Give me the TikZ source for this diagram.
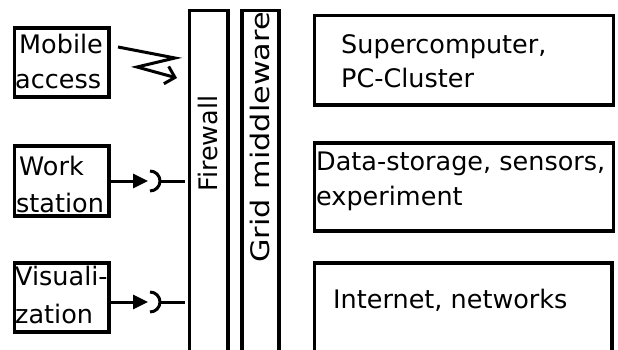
\documentclass[tikz,border=0pt]{standalone}
\usepackage{fontspec}
\setmainfont{DejaVu Sans}
\usetikzlibrary{arrows.meta,calc}

\begin{document}
\begin{tikzpicture}[x=1pt,y=-1pt,
  frame/.style={draw, line width=3.2pt, outer sep=0pt, inner sep=0pt, anchor=north west},
  txt/.style={anchor=base west, inner sep=0pt, font=\fontsize{25.5}{36}\selectfont},
  wire/.style={line width=3pt},
  plug/.style={wire, -{Triangle[length=15pt,width=14pt]}},
]
\useasboundingbox (0,0) rectangle (618,349);
\clip (0,0) rectangle (618,349);
\fill[white] (0,0) rectangle (618,349);

% client boxes
\node[frame, minimum width=94.5pt, minimum height=69pt] (mob) at (14.5,28) {};
\node[frame, minimum width=94.5pt, minimum height=70pt] (ws)  at (14.5,146) {};
\node[frame, minimum width=94.5pt, minimum height=69pt] (vis) at (14.5,263) {};

\node[txt] (tMob1) at (19,53)  {Mobile};
\node[txt] (tMob2) at (15,88)  {access};
\node[txt] (tWs1)  at (19,175) {Work};
\node[txt] (tWs2)  at (16,212) {station};
\node[txt] (tVis1) at (15,285) {Visuali-};
\node[txt] (tVis2) at (15,323) {zation};

% firewall and middleware columns, open at the bottom
\node[frame, minimum width=38.5pt, minimum height=400pt] (fw)   at (189.5,10.5) {};
\node[frame, minimum width=37pt,   minimum height=400pt] (grid) at (242,10.5) {};
\node[txt, rotate=90] (tFw)   at (217,192) {Firewall};
\node[txt, rotate=90] (tGrid) at (269,263) {\scalebox{1.19}[1]{Grid middleware}};

% resource boxes
\node[frame, minimum width=299pt,   minimum height=89.5pt] (sc)  at (314.5,15.5) {};
\node[frame, minimum width=299pt,   minimum height=88pt]   (ds)  at (314.5,143) {};
\node[frame, minimum width=297.5pt, minimum height=150pt]  (net) at (314.5,263) {};

\node[txt] (tSc1)  at (341,53)  {Supercomputer,};
\node[txt] (tSc2)  at (341,87)  {PC-Cluster};
\node[txt] (tDs1)  at (316,170) {Data-storage, sensors,};
\node[txt] (tDs2)  at (316,205) {experiment};
\node[txt] (tNet)  at (333,308) {Internet, networks};

% wireless link
\coordinate (z0) at (118,47);
\coordinate (z1) at (175,58);
\coordinate (z2) at (137,67);
\coordinate (z3) at (177,78);
\draw[wire, -{Straight Barb[length=9pt,width=18pt]}] (z0) -- (z1) -- (z2) -- (z3);

% plug-and-socket links
\coordinate (s1) at (150,181);
\coordinate (s2) at (150,302);
\foreach \s/\b in {s1/ws, s2/vis} {
  \draw[plug] (\b.east |- \s) -- ($(\s)+(-2,0)$);
  \draw[wire] ($(\s)+(0,-10)$) arc[start angle=90, end angle=-90, radius=10pt];
  \draw[wire] ($(\s)+(10,0)$) -- ($(fw.west |- \s)+(-5,0)$);
}
\end{tikzpicture}
\end{document}
